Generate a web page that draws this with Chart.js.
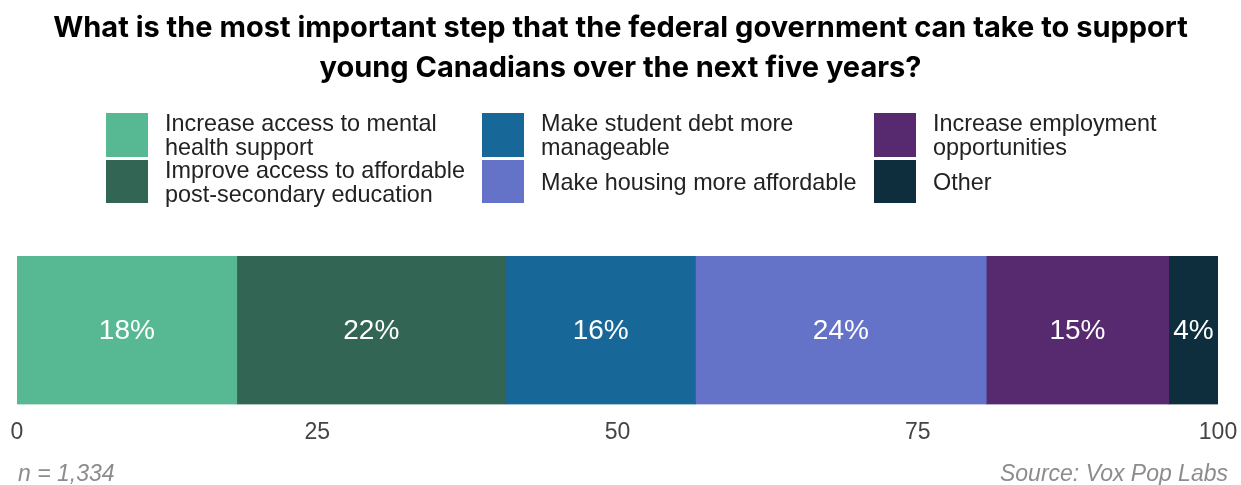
<!DOCTYPE html>
<html>
<head>
<meta charset="utf-8">
<script src="https://cdn.jsdelivr.net/npm/chart.js@4.4.1/dist/chart.umd.min.js"></script>
<style>
  html, body { margin: 0; padding: 0; background: #fff; }
  #wrap { position: relative; width: 1241px; height: 485px; overflow: hidden; }
  #chart { position: absolute; left: 0; top: 0; }
  #title {
    position: absolute; left: 0; top: 7px; width: 1241px; text-align: center;
    font-family: Inter, "DejaVu Sans", sans-serif; font-weight: 700; font-size: 29px;
    line-height: 40px; color: #000;
  }
  .lg { position: absolute; display: flex; align-items: center; }
  .lg .sw { width: 42px; flex: none; }
  .lg .tx {
    margin-left: 17px; font-family: "Liberation Sans", Arial, sans-serif; font-size: 23.4px;
    line-height: 24px; color: #222; white-space: nowrap;
  }
  .foot {
    position: absolute; top: 460px; font-family: "Liberation Sans", Arial, sans-serif;
    font-style: italic; font-size: 23px; color: #8c8c8c;
  }
</style>
</head>
<body>
<div id="wrap">
  <canvas id="chart" width="1241" height="485"></canvas>
  <div id="title">What is the most important step that the federal government can take to support<br>young Canadians over the next five years?</div>
  <div id="legend"></div>
  <div class="foot" style="left:18px">n = 1,334</div>
  <div class="foot" style="right:13px">Source: Vox Pop Labs</div>
</div>
<script>
// answers, left to right in the bar
const answers = [
  ["Increase access to mental", "health support"],
  ["Improve access to affordable", "post-secondary education"],
  ["Make student debt more", "manageable"],
  ["Make housing more affordable"],
  ["Increase employment", "opportunities"],
  ["Other"]
];
const shares = [18.3, 22.4, 15.8, 24.2, 15.2, 4.1];
const shareLabels = ["18%", "22%", "16%", "24%", "15%", "4%"];
const colors = ["#57b894", "#326553", "#186799", "#6472c8", "#57296f", "#0e2d3d"];
const xTicks = [0, 25, 50, 75, 100];

// legend, 3 columns x 2 rows
const legendCols = [106, 482, 874];
const legendRows = [{ top: 113, h: 44 }, { top: 160, h: 43 }];
const legend = document.getElementById("legend");
answers.forEach((lines, i) => {
  const col = Math.floor(i / 2), row = i % 2;
  const item = document.createElement("div");
  item.className = "lg";
  item.style.left = legendCols[col] + "px";
  item.style.top = legendRows[row].top + "px";
  item.style.height = legendRows[row].h + "px";
  item.innerHTML = `<div class="sw" style="height:${legendRows[row].h}px;background:${colors[i]}"></div>` +
    `<div class="tx">${lines.join("<br>")}</div>`;
  legend.appendChild(item);
});

// white percentage labels in the middle of each segment
const segmentLabels = {
  id: "segmentLabels",
  afterDatasetsDraw(chart) {
    const ctx = chart.ctx;
    ctx.save();
    ctx.fillStyle = "#fff";
    ctx.font = "28px 'Liberation Sans', Arial, sans-serif";
    ctx.textAlign = "center";
    ctx.textBaseline = "middle";
    chart.data.datasets.forEach((ds, i) => {
      const bar = chart.getDatasetMeta(i).data[0];
      const { x, y, base } = bar.getProps(["x", "y", "base"], true);
      ctx.fillText(shareLabels[i], (x + base) / 2, y + 1);
    });
    ctx.restore();
  }
};

new Chart(document.getElementById("chart"), {
  type: "bar",
  data: {
    labels: [""],
    datasets: answers.map((lines, i) => ({
      label: lines.join(" "),
      data: [shares[i]],
      backgroundColor: colors[i],
      borderWidth: 0,
      barPercentage: 1,
      categoryPercentage: 1
    }))
  },
  options: {
    indexAxis: "y",
    responsive: false,
    animation: false,
    layout: { padding: { left: 17, right: 23, top: 256, bottom: 25 } },
    scales: {
      x: {
        stacked: true,
        min: 0,
        max: 100,
        afterBuildTicks: axis => { axis.ticks = xTicks.map(v => ({ value: v })); },
        afterFit: axis => { axis.paddingLeft = 0; axis.paddingRight = 0; },
        grid: { display: false, drawTicks: false },
        border: { display: false },
        ticks: {
          padding: 14,
          color: "#444",
          maxRotation: 0,
          font: { family: "'Liberation Sans', Arial, sans-serif", size: 23 }
        }
      },
      y: { stacked: true, display: false }
    },
    plugins: {
      legend: { display: false },
      tooltip: { enabled: false }
    }
  },
  plugins: [segmentLabels]
});
</script>
</body>
</html>
